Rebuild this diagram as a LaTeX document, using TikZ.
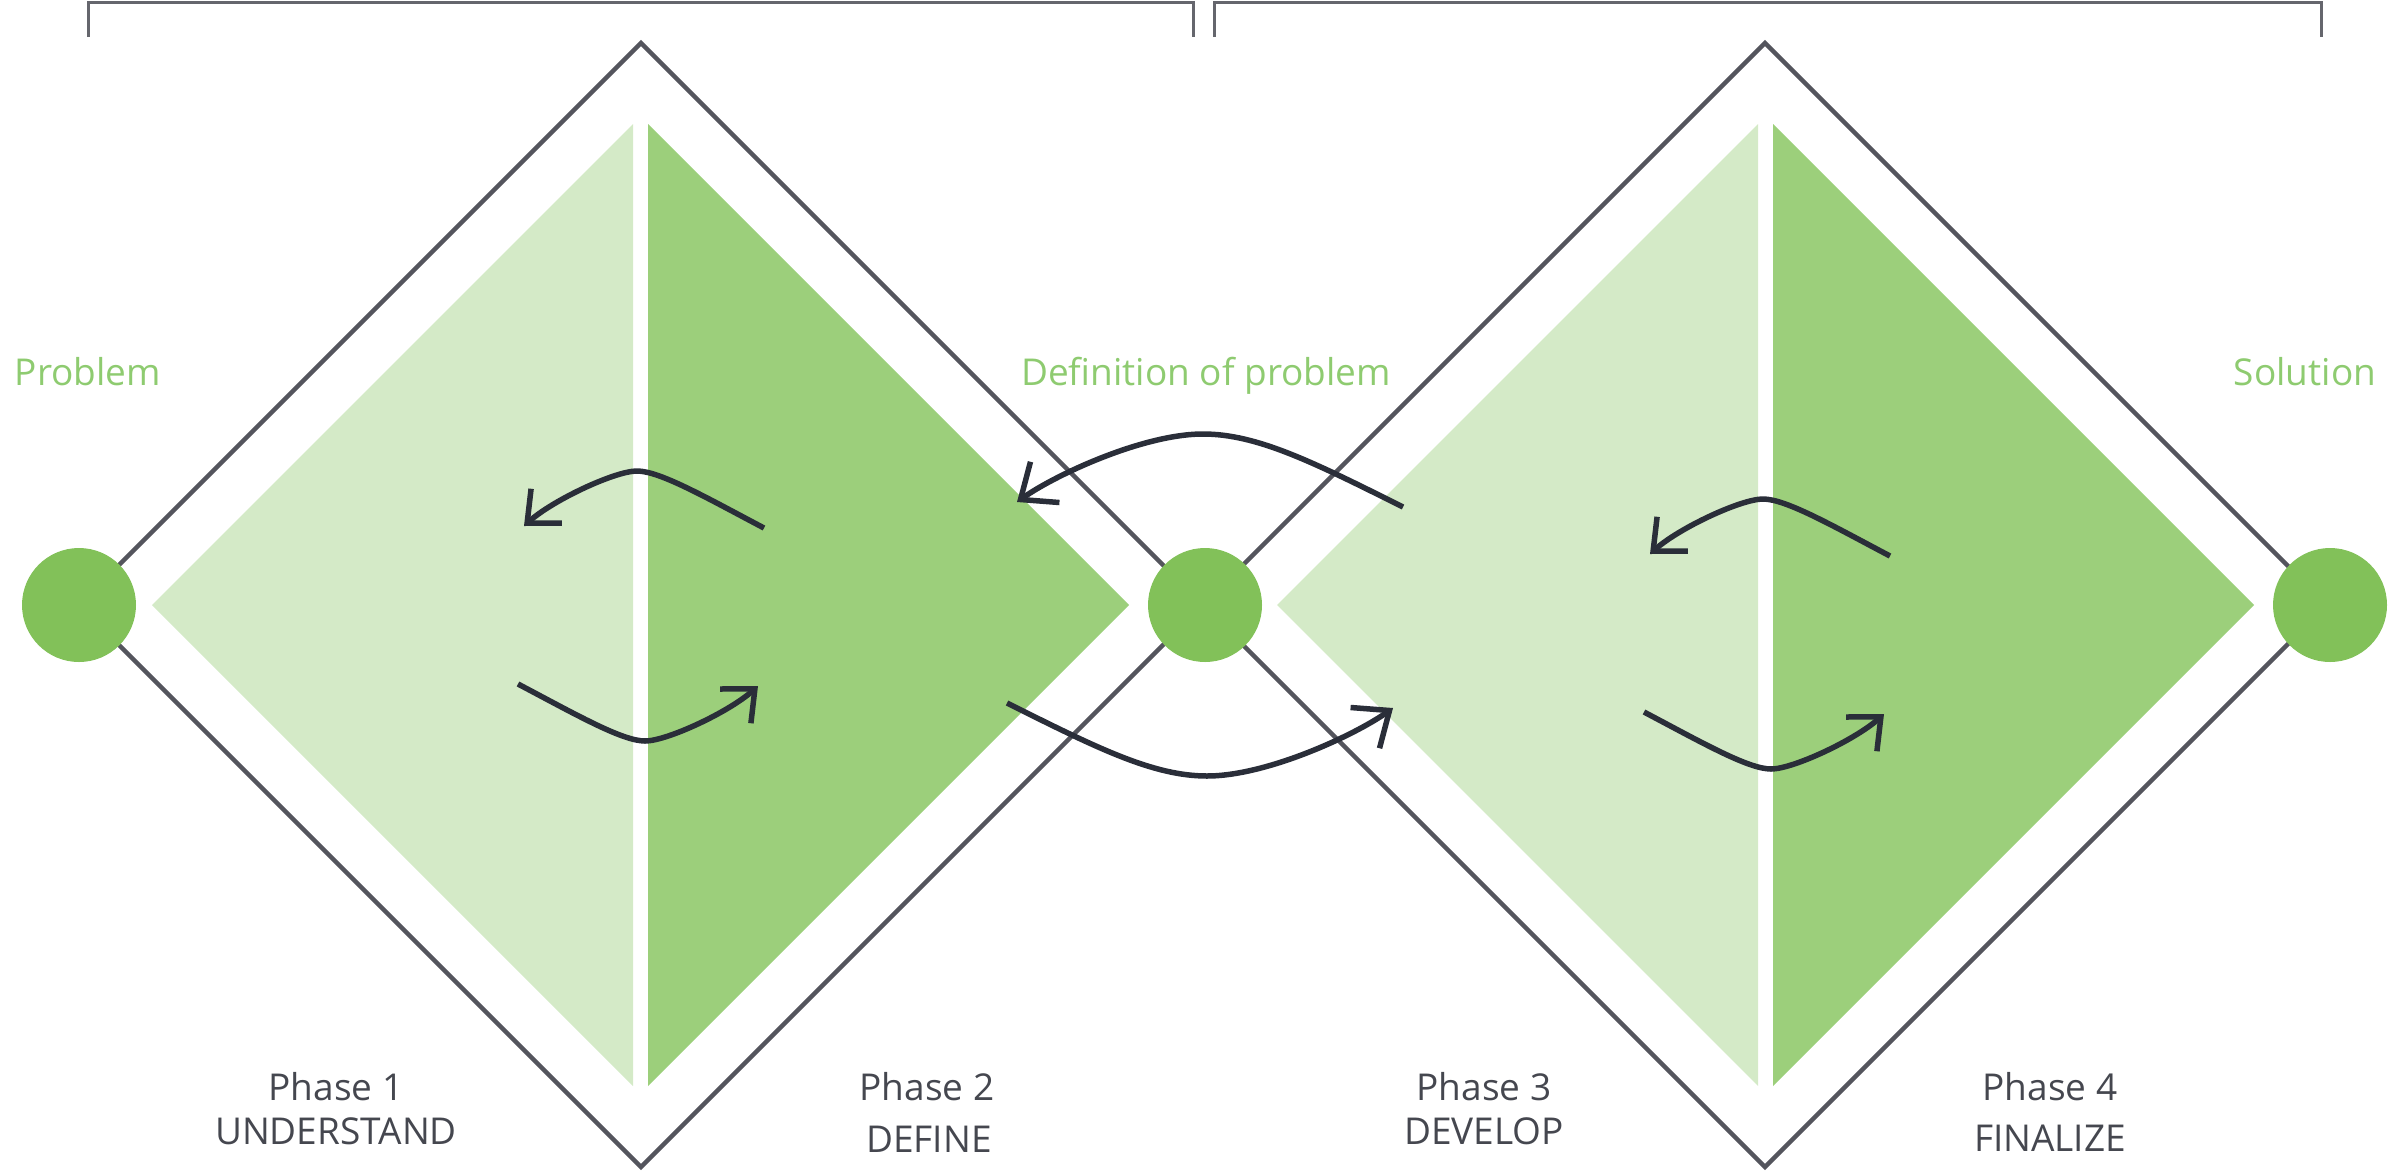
\documentclass[tikz,border=0pt]{standalone}
\usepackage{fontspec}
\setmainfont{Open Sans}
\usetikzlibrary{arrows.meta}
\definecolor{lightg}{HTML}{D4EAC7}
\definecolor{darkg}{HTML}{9CCF7B}
\definecolor{dotg}{HTML}{82C159}
\definecolor{outl}{HTML}{54555D}
\definecolor{arrc}{HTML}{2A2E39}
\definecolor{txtg}{HTML}{8ECB70}
\definecolor{txtd}{HTML}{45474F}
\tikzset{
  dot/.style={circle,fill=dotg,draw=none,minimum size=114pt,inner sep=0pt},
  outline/.style={draw=outl,line width=4.5pt,miter limit=20},
  bracketline/.style={draw=outl!90,line width=3pt},
  loopar/.style={draw=arrc,line width=5.5pt,-{Straight Barb[length=26pt,width=46pt]}},
  bigar/.style={draw=arrc,line width=5.5pt,-{Straight Barb[length=30pt,width=50pt]}},
  gtext/.style={text=txtg,inner sep=0pt,anchor=base,font=\fontsize{37}{44}\selectfont},
  ptext/.style={text=txtd,inner sep=0pt,anchor=base,font=\fontsize{37}{44}\selectfont},
}
\begin{document}
\begin{tikzpicture}[x=1pt,y=-1pt]
\useasboundingbox (0,0) rectangle (2407,1171);
% brackets
\draw[bracketline] (88,37) -- (88,2.5) -- (1193,2.5) -- (1193,37);
\draw[bracketline] (1214,37) -- (1214,2.5) -- (2321,2.5) -- (2321,37);
% fills
\fill[lightg] (152,605) -- (633,124) -- (633,1086) -- cycle;
\fill[darkg] (648,124) -- (648,1086) -- (1129,605) -- cycle;
\fill[lightg] (1277,605) -- (1758,124) -- (1758,1086) -- cycle;
\fill[darkg] (1773,124) -- (1773,1086) -- (2254,605) -- cycle;
% diamonds
\draw[outline] (79,605) -- (641,43) -- (1203,605) -- (641,1167) -- cycle;
\draw[outline] (1203,605) -- (1765,43) -- (2327,605) -- (1765,1167) -- cycle;
% circles
\node[dot] (prob) at (79,605) {};
\node[dot] (def) at (1205,605) {};
\node[dot] (sol) at (2330,605) {};
% labels
\node[gtext] (tprob) at (88,385) {Problem};
\node[gtext] (tdef) at (1206,385) {Definition of problem};
\node[gtext] (tsol) at (2305,385) {Solution};
\node[ptext] (p1a) at (336,1100) {Phase 1};
\node[ptext] (p1b) at (336,1144) {UNDERSTAND};
\node[ptext] (p2a) at (927,1100) {Phase 2};
\node[ptext] (p2b) at (929,1152) {DEFINE};
\node[ptext] (p3a) at (1484,1100) {Phase 3};
\node[ptext] (p3b) at (1484,1144) {DEVELOP};
\node[ptext] (p4a) at (2050,1100) {Phase 4};
\node[ptext] (p4b) at (2050,1151) {FINALIZE};
% arrow end points
\coordinate (a1s) at (764,528); \coordinate (a1e) at (524,526);
\coordinate (a2s) at (518,684); \coordinate (a2e) at (758,686);
\coordinate (a3s) at (1890,556); \coordinate (a3e) at (1650,554);
\coordinate (a4s) at (1644,712); \coordinate (a4e) at (1884,714);
\coordinate (b1s) at (1403,507); \coordinate (b1e) at (1017,502);
\coordinate (b2s) at (1007,703); \coordinate (b2e) at (1393,708);
% loop arrows
\draw[loopar] (a1s) .. controls (707,498) and (660,471) .. (637,471) .. controls (615,471) and (553,500) .. (a1e);
\draw[loopar] (a2s) .. controls (575,714) and (622,741) .. (645,741) .. controls (667,741) and (729,712) .. (a2e);
\draw[loopar] (a3s) .. controls (1833,526) and (1786,499) .. (1763,499) .. controls (1741,499) and (1679,528) .. (a3e);
\draw[loopar] (a4s) .. controls (1701,742) and (1748,769) .. (1771,769) .. controls (1793,769) and (1855,740) .. (a4e);
% big arrows
\draw[bigar] (b1s) .. controls (1313,462) and (1257,434) .. (1203,434) .. controls (1143,434) and (1055,475) .. (b1e);
\draw[bigar] (b2s) .. controls (1097,748) and (1153,776) .. (1207,776) .. controls (1267,776) and (1355,735) .. (b2e);
\end{tikzpicture}
\end{document}
